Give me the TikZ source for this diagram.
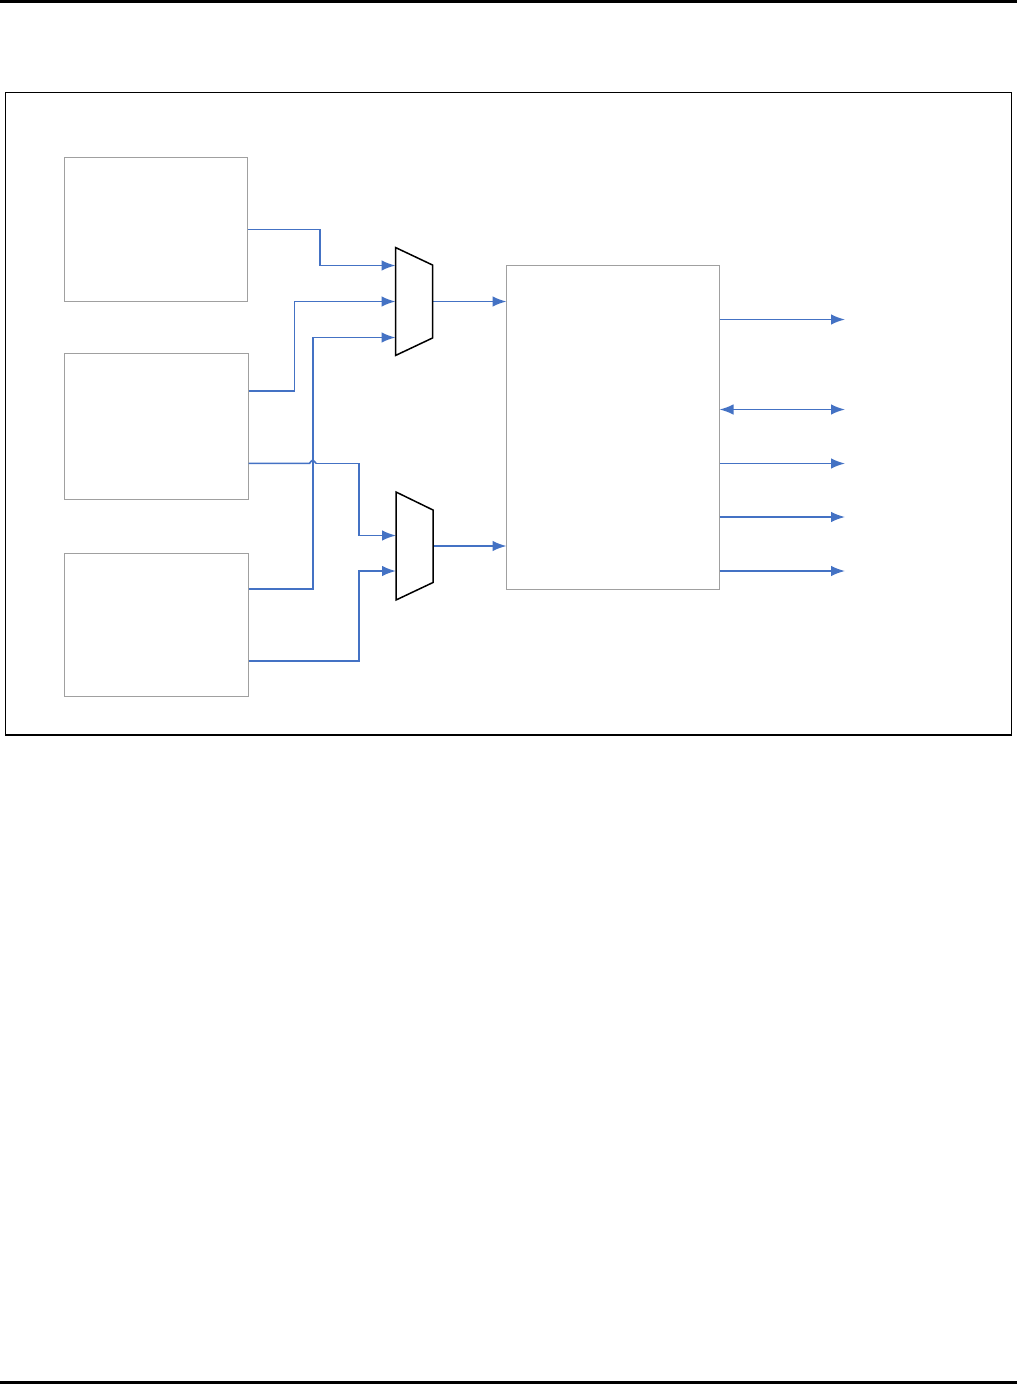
\documentclass[tikz,border=0pt]{standalone}
\usetikzlibrary{arrows.meta}
\definecolor{wire}{RGB}{68,114,196}
\definecolor{boxedge}{RGB}{160,160,160}
\tikzset{
  x=1pt,y=-1pt,
  block/.style={draw=boxedge,line width=1pt,fill=white},
  mux/.style={draw=black,line width=1.5pt,line join=miter},
  sig/.style={draw=wire,line width=1.6pt,line join=miter,-{Latex[length=14pt,width=10.5pt]}},
  sigb/.style={draw=wire,line width=1.6pt,{Latex[length=14pt,width=10.5pt]}-{Latex[length=14pt,width=10.5pt]}},
}
\begin{document}
\begin{tikzpicture}
\useasboundingbox (0,0) rectangle (1017,1384);
\fill[black] (0,0) rectangle (1017,3);
\fill[black] (0,1381) rectangle (1017,1384);
\draw[black,line width=1.7pt] (5.5,92.5) rectangle (1011.5,734.7);
% blocks
\coordinate (a1) at (64.5,157.5);   \coordinate (a2) at (247.5,301.5);
\coordinate (b1) at (64.5,353.8);   \coordinate (b2) at (248.5,499.5);
\coordinate (c1) at (64.5,553);     \coordinate (c2) at (248.5,696.8);
\coordinate (d1) at (506.5,265.5);  \coordinate (d2) at (719.5,589.5);
\path[block] (a1) rectangle (a2);
\path[block] (b1) rectangle (b2);
\path[block] (c1) rectangle (c2);
\path[block] (d1) rectangle (d2);
% muxes
\coordinate (m1a) at (395.5,247.5); \coordinate (m1b) at (432.5,265);
\coordinate (m1c) at (432.5,338);   \coordinate (m1d) at (395.5,355.5);
\coordinate (m2a) at (396,492);     \coordinate (m2b) at (433,510);
\coordinate (m2c) at (433,582.5);   \coordinate (m2d) at (396,600);
% wires
\coordinate (ta) at (247.5,229.5);  \coordinate (ma1) at (395.5,265.5);
\draw[sig] (ta) -| (319.8,265.5) -- (ma1);
\coordinate (tb1) at (248.5,391);   \coordinate (ma2) at (395.5,301.5);
\draw[sig] (tb1) -| (294.3,301.5) -- (ma2);
\coordinate (tc1) at (248.5,589);   \coordinate (ma3) at (395.5,337.5);
\draw[sig] (tc1) -| (312.7,337.5) -- (ma3);
\coordinate (tb2) at (248.5,463.4); \coordinate (mb1) at (396,535.5);
\coordinate (hopL) at (309.5,463.4); \coordinate (hopR) at (316,463.4);
\draw[wire,line width=1.6pt] (tb2) -- (hopL) .. controls (311,463.4) and (310.5,460) .. (312.7,460) .. controls (315,460) and (314.5,463.4) .. (hopR);
\draw[sig] (hopR) -| (358.8,535.5) -- (mb1);
\coordinate (tc2) at (248.5,661);   \coordinate (mb2) at (396,571);
\draw[sig,line width=1.8pt] (tc2) -| (358.8,571) -- (mb2);
\coordinate (o1) at (432.5,301.5);  \coordinate (d1i) at (506.5,301.5);
\draw[sig] (o1) -- (d1i);
\coordinate (o2) at (433,546);      \coordinate (d2i) at (506.5,546);
\draw[sig] (o2) -- (d2i);
% outputs
\coordinate (q1) at (719.5,319.5); \coordinate (e1) at (845,319.5);
\coordinate (q2) at (719.5,409.5); \coordinate (e2) at (845,409.5);
\coordinate (q3) at (719.5,463.5); \coordinate (e3) at (845,463.5);
\coordinate (q4) at (719.5,517);   \coordinate (e4) at (845,517);
\coordinate (q5) at (719.5,571);   \coordinate (e5) at (845,571);
\draw[sig] (q1) -- (e1);
\draw[sigb] (q2) -- (e2);
\draw[sig] (q3) -- (e3);
\draw[sig] (q4) -- (e4);
\draw[sig] (q5) -- (e5);
\path[mux] (m1a) -- (m1b) -- (m1c) -- (m1d) -- cycle;
\path[mux] (m2a) -- (m2b) -- (m2c) -- (m2d) -- cycle;
\end{tikzpicture}
\end{document}
